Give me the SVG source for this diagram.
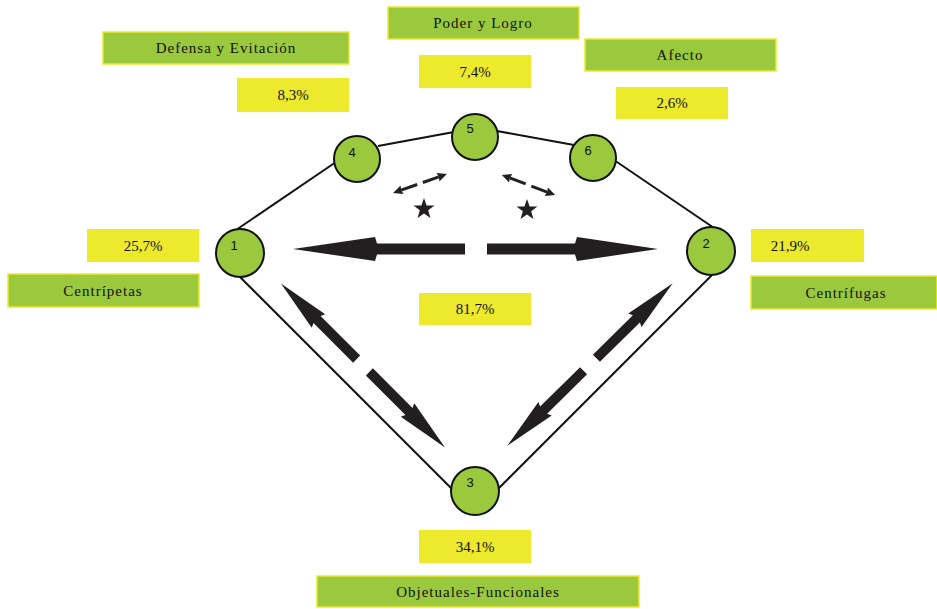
<svg xmlns="http://www.w3.org/2000/svg" xmlns:xlink="http://www.w3.org/1999/xlink" width="937" height="609" viewBox="0 0 937 609">
<style>
.gbox{fill:#9ac93d;stroke:#ede92c;stroke-width:1.5}
.ybox{fill:#ede92c;stroke:none}
.lbl{font-family:"Liberation Serif",serif;font-size:15px;fill:#111;text-anchor:middle;letter-spacing:1px}
.pct{font-family:"Liberation Serif",serif;font-size:15px;fill:#111;text-anchor:middle}
.node{fill:#9ac93d;stroke:#111;stroke-width:2}
.num{font-family:"Liberation Sans",sans-serif;font-size:13px;fill:#111;text-anchor:middle}
.edge{stroke:#111;stroke-width:2;fill:none}
.arr{fill:#231f20}
.dash{stroke:#231f20;stroke-width:3;fill:none}
</style>
<defs>
<polygon id="star" points="0,-11 2.59,-3.56 10.46,-3.4 4.18,1.36 6.47,8.9 0,4.4 -6.47,8.9 -4.18,1.36 -10.46,-3.4 -2.59,-3.56"/>
<g id="darr">
<polygon points="9,-5 65,-5 63,-9.5 116,0 63,9.5 65,5 9,5"/>
<polygon points="-9,-5 -65,-5 -63,-9.5 -116,0 -63,9.5 -65,5 -9,5"/>
</g>
<g id="sarr">
<polygon points="28.5,0 19,-4.5 20,0 19,4.5"/>
<polygon points="-28.5,0 -19,-4.5 -20,0 -19,4.5"/>
<line x1="3" y1="0" x2="20" y2="0" class="dash"/>
<line x1="-3" y1="0" x2="-20" y2="0" class="dash"/>
</g>
</defs>
<rect width="937" height="609" fill="#fff"/>

<g id="connectors">
<line class="edge" x1="236" y1="230" x2="336" y2="162"/>
<line class="edge" x1="378" y1="146" x2="454" y2="132"/>
<line class="edge" x1="497" y1="131" x2="574" y2="145"/>
<line class="edge" x1="614" y1="160" x2="717" y2="230"/>
<line class="edge" x1="240" y1="277" x2="453" y2="490"/>
<line class="edge" x1="712" y1="275" x2="498" y2="489"/>
<g class="arr">
<polygon points="465,243.5 377,243.5 375,237 293,249 375,261 377,254.5 465,254.5"/>
<polygon points="487,243.5 575,243.5 577,237 658,249 577,261 575,254.5 487,254.5"/>
<use xlink:href="#darr" transform="translate(363,365.5) rotate(45)"/>
<use xlink:href="#darr" transform="translate(590,364.5) rotate(-44.5)"/>
<use xlink:href="#sarr" transform="translate(420,183.5) rotate(-19.4)"/>
<use xlink:href="#sarr" transform="translate(528.5,185) rotate(20.7)"/>
<use xlink:href="#star" transform="translate(424,209)"/>
<use xlink:href="#star" transform="translate(527,210)"/>
</g>
</g>

<g id="node1"><circle class="node" cx="240" cy="253" r="24"/><text class="num" x="234" y="250">1</text></g>
<g id="node2"><circle class="node" cx="711" cy="251" r="24"/><text class="num" x="706" y="248">2</text></g>
<g id="node3"><circle class="node" cx="475" cy="491" r="24"/><text class="num" x="470" y="487">3</text></g>
<g id="node4"><circle class="node" cx="357" cy="159" r="23"/><text class="num" x="352" y="157">4</text></g>
<g id="node5"><circle class="node" cx="475" cy="137" r="23"/><text class="num" x="470" y="133">5</text></g>
<g id="node6"><circle class="node" cx="593" cy="158" r="23"/><text class="num" x="588" y="155">6</text></g>

<g id="poder"><rect class="gbox" x="388" y="7" width="191" height="32"/><text class="lbl" x="483" y="28">Poder y Logro</text></g>
<g id="p74"><rect class="ybox" x="419" y="55" width="112" height="33"/><text class="pct" x="475" y="77">7,4%</text></g>
<g id="defensa"><rect class="gbox" x="103" y="32" width="246" height="32"/><text class="lbl" x="226" y="53">Defensa y Evitación</text></g>
<g id="p83"><rect class="ybox" x="237" y="78" width="112" height="34"/><text class="pct" x="293" y="100">8,3%</text></g>
<g id="afecto"><rect class="gbox" x="585" y="39" width="191" height="32"/><text class="lbl" x="680" y="60">Afecto</text></g>
<g id="p26"><rect class="ybox" x="616" y="87" width="112" height="32"/><text class="pct" x="672" y="108">2,6%</text></g>
<g id="p257"><rect class="ybox" x="87" y="229" width="112" height="33"/><text class="pct" x="143" y="251">25,7%</text></g>
<g id="centripetas"><rect class="gbox" x="8" y="274" width="191" height="33"/><text class="lbl" x="103" y="296">Centrípetas</text></g>
<g id="p219"><rect class="ybox" x="751" y="229" width="113" height="33"/><text class="pct" x="790" y="251">21,9%</text></g>
<g id="centrifugas"><rect class="gbox" x="751" y="276" width="186" height="33"/><text class="lbl" x="846" y="298">Centrífugas</text></g>
<g id="p817"><rect class="ybox" x="419" y="293" width="112" height="32"/><text class="pct" x="475" y="314">81,7%</text></g>
<g id="p341"><rect class="ybox" x="419" y="530" width="112" height="33"/><text class="pct" x="475" y="552">34,1%</text></g>
<g id="objetuales"><rect class="gbox" x="317" y="576" width="322" height="31"/><text class="lbl" x="478" y="597">Objetuales-Funcionales</text></g>
</svg>
